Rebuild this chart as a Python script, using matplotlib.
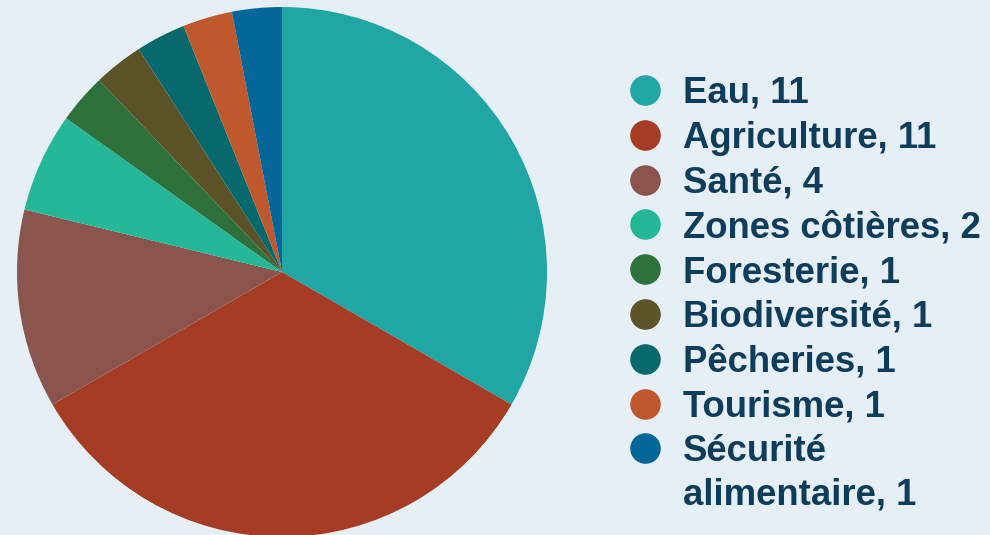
import matplotlib.pyplot as plt

# Data
sectors = ['Eau', 'Agriculture', 'Santé', 'Zones côtières', 'Foresterie',
           'Biodiversité', 'Pêcheries', 'Tourisme', 'Sécurité\nalimentaire']
counts = [11, 11, 4, 2, 1, 1, 1, 1, 1]
colors = ['#21a6a6', '#a63c24', '#8b544c', '#25b898', '#2e713c',
          '#5c5428', '#07696e', '#c0582e', '#046699']

bg = '#e6eff5'
text_color = '#0e3d5c'
plt.rcParams['font.family'] = ['Liberation Sans', 'DejaVu Sans']

W, H = 990, 535
fig = plt.figure(figsize=(W / 100, H / 100), dpi=100, facecolor=bg)

# pie: center (282, 272) px, radius 265 px
cx, cy, r = 282, 272, 265
ax = fig.add_axes([(cx - r) / W, (H - cy - r) / H, 2 * r / W, 2 * r / H])
ax.pie(counts, colors=colors, startangle=90, counterclock=False, radius=1,
       wedgeprops=dict(linewidth=0))
ax.set_xlim(-1, 1)
ax.set_ylim(-1, 1)
ax.set_aspect('auto')
ax.axis('off')

# legend drawn by hand so the wrapped label keeps its marker on the first line
lax = fig.add_axes([0, 0, 1, 1], facecolor='none')
lax.set_xlim(0, W)
lax.set_ylim(H, 0)
lax.axis('off')
y0, step = 90, 44.8
for i, (name, n, c) in enumerate(zip(sectors, counts, colors)):
    y = y0 + i * step
    lax.plot(645, y, 'o', color=c, markersize=22, markeredgewidth=0)
    lax.text(683, y - 14, f'{name}, {n}', fontsize=26.3, fontweight='bold',
             color=text_color, va='top', ha='left', linespacing=1.3)

fig.savefig('out.png', dpi=100, facecolor=bg)
